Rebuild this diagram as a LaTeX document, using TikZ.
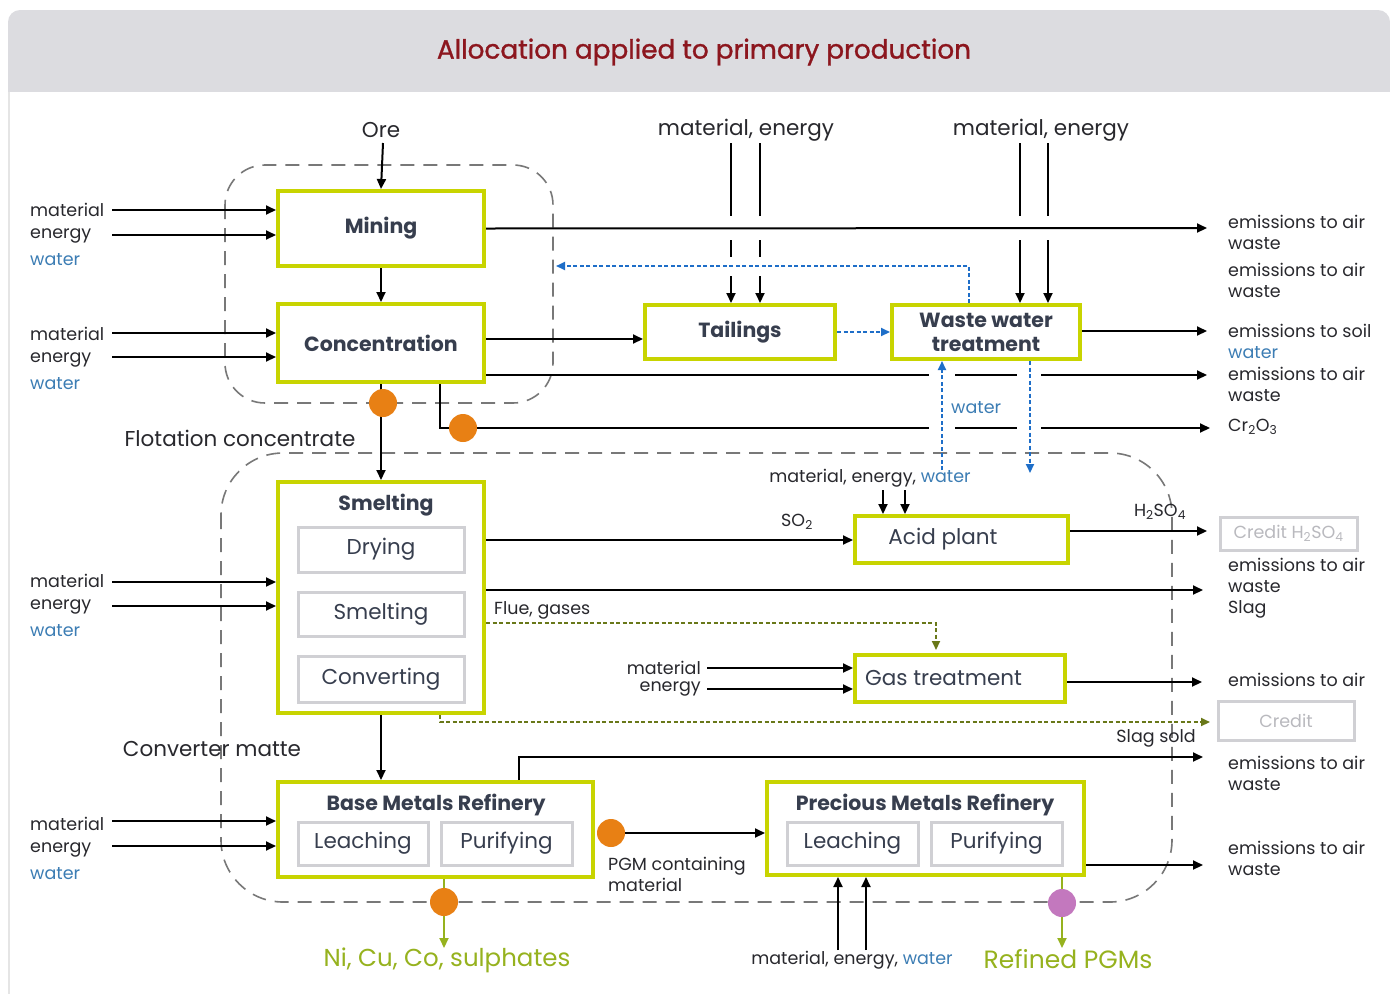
\documentclass[tikz,border=0pt]{standalone}
\usepackage{fontspec}
\setmainfont{Poppins}
\newfontfamily\ttlfont{Poppins}[FakeBold=1.2]
\usetikzlibrary{arrows.meta,calc}
\definecolor{ylw}{RGB}{200,212,0}
\definecolor{txt}{RGB}{40,40,45}
\definecolor{boxtxt}{RGB}{55,62,78}
\definecolor{wblue}{RGB}{60,125,180}
\definecolor{dblue}{RGB}{30,110,200}
\definecolor{olive}{RGB}{105,120,25}
\definecolor{lgreen}{RGB}{150,178,30}
\definecolor{orng}{RGB}{232,128,20}
\definecolor{pinkdot}{RGB}{195,120,190}
\definecolor{hdr}{RGB}{220,220,224}
\definecolor{ttl}{RGB}{140,22,30}
\definecolor{gline}{RGB}{120,120,120}
\definecolor{ibox}{RGB}{208,208,212}
\definecolor{credtxt}{RGB}{185,185,190}
\newcommand\fsm{\fontsize{17.5}{21}\selectfont}
\newcommand\fmid{\fontsize{21.5}{24}\selectfont}
\newcommand\fbx{\fontsize{20.5}{25}\selectfont\bfseries}
\newcommand\fnx{\fontsize{21.5}{24}\selectfont}
\begin{document}
\begin{tikzpicture}[x=1pt,y=-1pt,
  ybox/.style={draw=ylw, line width=4pt, fill=white, inner sep=0pt, text=boxtxt},
  ibx/.style={draw=ibox, line width=3pt, fill=white, inner sep=0pt, text=boxtxt, font=\fnx},
  cbx/.style={draw=ibox, line width=3pt, fill=white, inner sep=0pt, text=credtxt, font=\fsm},
  arr/.style={-{Triangle[length=10pt,width=9pt]}, line width=2pt, black},
  ln/.style={line width=2pt, black},
  grp/.style={draw=gline, dash pattern=on 14pt off 9pt, line width=1.6pt},
  bdash/.style={dblue, line width=2pt, dash pattern=on 4pt off 2.5pt},
  gdash/.style={olive, line width=2pt, dash pattern=on 4pt off 2.5pt},
  garr/.style={-{Triangle[length=10pt,width=9pt]}, line width=2pt, lgreen},
  lab/.style={font=\fsm, text=txt, inner sep=0pt, align=left},
  gap/.style={white, line width=6pt},
]
\useasboundingbox (0,0) rectangle (1390,994);
\fill[white] (0,0) rectangle (1390,994);
% header
\fill[hdr, rounded corners=12pt] (8,10) rectangle (1390,60);
\fill[hdr] (8,40) rectangle (1390,92);
\draw[gray!20, line width=1.5pt] (9,92) -- (9,994);
\node[font=\ttlfont\fontsize{26.3}{29}\selectfont, text=ttl] (title) at (704,52) {Allocation applied to primary production};

% groups
\draw[grp, rounded corners=40pt] (225,165) rectangle (553,403);
\draw[grp, rounded corners=62pt] (221,453) rectangle (1172,902);

% boxes
\node[ybox, minimum width=206, minimum height=75, font=\fbx] (mining) at (381,228.5) {Mining};
\node[ybox, minimum width=206, minimum height=78, font=\fbx] (conc) at (381,343) {Concentration};
\node[ybox, minimum width=190, minimum height=54, font=\fbx] (tail) at (740,332) {Tailings};
\node[ybox, minimum width=188, minimum height=54, font=\fbx, align=center] (wwt) at (986,332) {Waste water\\[-1pt]treatment};

% inputs to tailings / wwt from top
\node[lab, font=\fmid] (ore) at (381,130) {Ore};
\node[lab, font=\fmid] (me1) at (746,130) {material, energy};
\node[lab, font=\fmid] (me2) at (1041,130) {material, energy};
\draw[arr] (383,143) -- (mining.north);
\foreach \xx in {731,760}{
  \draw[ln] (\xx,143) -- (\xx,216);
  \draw[ln] (\xx,240) -- (\xx,257);
  \draw[arr] (\xx,276) -- (\xx,303);
}
\foreach \xx in {1020,1048}{
  \draw[ln] (\xx,143) -- (\xx,216);
  \draw[arr] (\xx,240) -- (\xx,303);
}

% left inputs
\foreach \yy/\tgt [count=\i] in {210/mining,334/conc,581/smelt,824/bmr}{
  \node[lab, anchor=west] (lmat\i) at (30,\yy) {material};
  \node[lab, anchor=west] (lene\i) at (30,\yy+26) {energy};
  \node[lab, anchor=west, text=wblue] (lwat\i) at (30,\yy+50) {water};
}

% outputs right
\node[lab, anchor=west] (o1) at (1228,232) {emissions to air\\waste};
\node[lab, anchor=west] (o2) at (1228,280) {emissions to air\\waste};
\node[lab, anchor=west] (o3) at (1228,341) {emissions to soil\\\textcolor{wblue}{water}};
\node[lab, anchor=west] (o4) at (1228,384) {emissions to air\\waste};
\node[lab, anchor=west] (o5) at (1228,427) {Cr\textsubscript{2}O\textsubscript{3}};
\node[lab, anchor=west] (o6) at (1228,588) {emissions to air\\waste\\Slag};
\node[lab, anchor=west] (o7) at (1228,680) {emissions to air};
\node[lab, anchor=west] (o8) at (1228,773) {emissions to air\\waste};
\node[lab, anchor=west] (o9) at (1228,858) {emissions to air\\waste};

% mining/concentration flows
\draw[arr] (mining.east) -- (1207,228);
\draw[arr] (mining.south) -- (conc.north);
\draw[arr] (conc.east |- 0,339) -- (tail.west |- 0,339);
\draw[arr] (wwt.east |- 0,331) -- (1207,331);
\draw[arr] (conc.east |- 0,375) -- (1207,375);
\draw[arr] (440,384) |- (1210,428);
\draw[gap] (929,375) -- (955,375);
\draw[gap] (1017,375) -- (1041,375);
\draw[gap] (929,428) -- (955,428);
\draw[gap] (1017,428) -- (1041,428);
\draw[bdash, -{Triangle[length=9pt,width=8pt]}] (tail.east) -- (wwt.west);
\draw[bdash, -{Triangle[length=9pt,width=8pt]}] ([xshift=-17pt]wwt.north) |- (556,266);
\draw[bdash, -{Triangle[length=9pt,width=8pt]}] (942,470) -- (wwt.south -| 942,0);
\draw[bdash, -{Triangle[length=9pt,width=8pt]}] (wwt.south -| 1030,0) -- (1030,473);
\node[lab, anchor=west, text=wblue] (wlab) at (951,408) {water};

% smelting
\node[ybox, minimum width=206, minimum height=231] (smelt) at (381,597.5) {};
\node[font=\fbx, text=boxtxt] (smt) at (386,505) {Smelting};
\node[ibx, minimum width=166, minimum height=45] (dry) at (381,549.5) {Drying};
\node[ibx, minimum width=166, minimum height=44] (sme) at (381,614) {Smelting};
\node[ibx, minimum width=166, minimum height=46] (conv) at (381,679) {Converting};
\draw[arr] (conc.south) -- (smelt.north);
\fill[orng] (383,403) circle[radius=14pt];
\fill[orng] (463,428) circle[radius=14pt];
\node[lab, font=\fmid] (flot) at (240,438) {Flotation concentrate};

% acid plant, gas treatment
\node[ybox, minimum width=213, minimum height=47, font=\fnx] (acid) at (961.5,539.5) {\hspace*{-37pt}Acid plant};
\node[ybox, minimum width=210, minimum height=47, font=\fnx] (gas) at (960,678.5) {\hspace*{-33pt}Gas treatment};
\node[lab] (mew) at (870,478) {material, energy, \textcolor{wblue}{water}};
\draw[arr] (883,490) -- (acid.north -| 883,0);
\draw[arr] (905,490) -- (acid.north -| 905,0);
\draw[arr] (smelt.east |- 0,540) -- (acid.west |- 0,540);
\node[lab] (so2) at (797,522) {SO\textsubscript{2}};
\draw[arr] (acid.east |- 0,531) -- (1207,531);
\node[lab] (h2so4) at (1160,512) {H\textsubscript{2}SO\textsubscript{4}};
\node[cbx, minimum width=137, minimum height=33] (cred1) at (1288.5,533.5) {Credit H\textsubscript{2}SO\textsubscript{4}};
\draw[arr] (smelt.east |- 0,590) -- (1203,590);
\draw[gdash, -{Triangle[length=9pt,width=8pt]}] (smelt.east |- 0,623) -| (936,650);
\node[lab, anchor=west] (flue) at (494,610) {Flue, gases};
\node[lab, anchor=east] (gmat) at (701,668) {material};
\node[lab, anchor=east] (gene) at (701,689) {energy};
\draw[arr] (707,668) -- (gas.west |- 0,668);
\draw[arr] (707,689) -- (gas.west |- 0,689);
\draw[arr] (gas.east |- 0,682) -- (1202,682);
\draw[gdash, -{Triangle[length=9pt,width=8pt]}] (440,715) |- (1210,722);
\node[cbx, minimum width=136, minimum height=39] (cred2) at (1286,720.5) {Credit};
\node[lab, anchor=east] (slag) at (1196,738) {Slag sold};

% refineries
\node[ybox, minimum width=315, minimum height=95] (bmr) at (435.5,829.5) {};
\node[font=\fbx, text=boxtxt] (bmrt) at (436,805) {Base Metals Refinery};
\node[ibx, minimum width=130, minimum height=43] (bl) at (363,843.5) {Leaching};
\node[ibx, minimum width=131, minimum height=43] (bp) at (506.5,843.5) {Purifying};
\node[ybox, minimum width=317, minimum height=93] (pmr) at (925.5,828.5) {};
\node[font=\fbx, text=boxtxt] (pmrt) at (925,805) {Precious Metals Refinery};
\node[ibx, minimum width=131, minimum height=43] (pl) at (852.5,843.5) {Leaching};
\node[ibx, minimum width=131, minimum height=43] (pp) at (996.5,843.5) {Purifying};
\node[lab, font=\fmid] (cmat) at (212,749) {Converter matte};

\draw[arr] (smelt.south) -- (smelt.south |- bmr.north);
\draw[arr] (519,780) |- (1203,757);
\draw[arr] (625,833) -- (pmr.west |- 0,833);
\fill[orng] (611,833) circle[radius=14pt];
\node[lab, anchor=west] (pgm) at (608,874) {PGM containing\\material};
\draw[arr] (pmr.east |- 0,865) -- (1203,865);
\draw[garr] (bmr.south -| 444,0) -- (444,948);
\fill[orng] (444,902) circle[radius=14pt];
\draw[garr] (pmr.south -| 1062,0) -- (1062,948);
\fill[pinkdot] (1062,903) circle[radius=14pt];
\draw[arr] (838,950) -- (pmr.south -| 838,0);
\draw[arr] (866,950) -- (pmr.south -| 866,0);
\node[lab, font=\fontsize{24.5}{28}\selectfont, text=lgreen] (nicu) at (447,960) {Ni, Cu, Co, sulphates};
\node[lab] (mew2) at (852,960) {material, energy, \textcolor{wblue}{water}};
\node[lab, font=\fontsize{25}{28}\selectfont, text=lgreen] (rpgm) at (1068,959) {Refined PGMs};

% left input arrows
\foreach \yy/\tgt in {210/mining,235/mining,333/conc,357/conc,582/smelt,606/smelt,821/bmr,846/bmr}{
  \draw[arr] (112,\yy) -- (\tgt.west |- 0,\yy);
}
\end{tikzpicture}
\end{document}
